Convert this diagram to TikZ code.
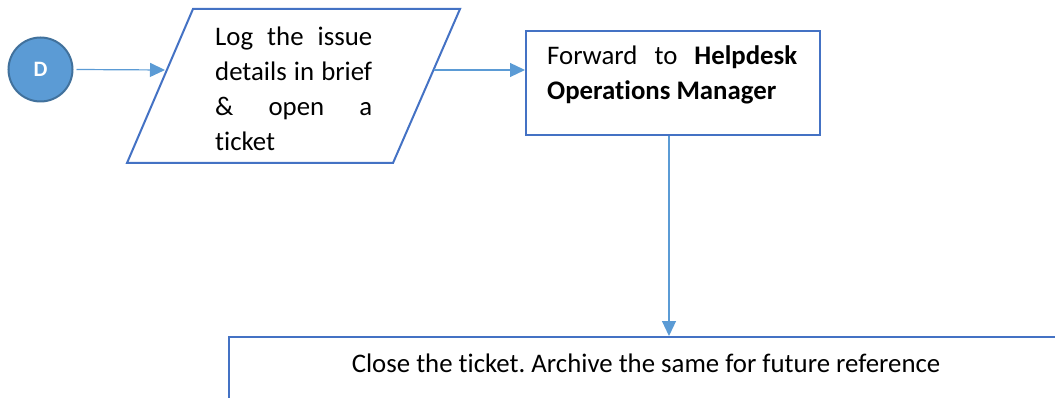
\documentclass[tikz,border=0pt]{standalone}
\usepackage{fontspec}
\setmainfont[Ligatures={NoCommon}]{Carlito}
\usetikzlibrary{arrows.meta}
\definecolor{shapeblue}{HTML}{4472C4}
\definecolor{linkblue}{HTML}{5B9BD5}
\definecolor{circleedge}{HTML}{41719C}
\frenchspacing
\tikzset{
  conn/.style={draw=linkblue, line width=1.2pt, -{Triangle[length=15pt,width=14pt]}},
  shapeline/.style={draw=shapeblue, line width=2pt},
  txt/.style={font=\fontsize{26.8}{35}\selectfont, inner sep=0pt, anchor=base west},
}
\begin{document}
\begin{tikzpicture}[x=1pt,y=-1pt]
\useasboundingbox (0,0) rectangle (1055,398);
\clip (0,0) rectangle (1055,398);
% connector circle
\node (d) [circle, fill=linkblue, draw=circleedge, line width=2pt, minimum size=64pt, inner sep=0pt,
  text=white, font=\fontsize{22}{22}\selectfont\bfseries] at (40.5,69.5) {D};
% parallelogram
\draw[shapeline] (193,9) -- (460,9) -- (393,163) -- (127,163) -- cycle;
\coordinate (plin) at (165,70);
\coordinate (plout) at (434,70);
\node (l1) [txt] at (215,46) {\makebox[157pt][s]{Log the issue}};
\node (l2) [txt] at (215,81) {\makebox[157pt][s]{details in brief}};
\node (l3) [txt] at (215,116) {\makebox[157pt][s]{\& open a}};
\node (l4) [txt] at (215,151) {ticket};
% box 2
\node (fwd) [shapeline, minimum width=294pt, minimum height=104pt, anchor=north west, inner sep=0pt] at (525,30) {};
\node (f1) [txt] at (547,65) {\makebox[250pt][s]{Forward to \textbf{Helpdesk}}};
\node (f2) [txt] at (547,100) {\textbf{Operations Manager}};
% box 3
\node (close) [shapeline, minimum width=836pt, minimum height=120pt, anchor=north west, inner sep=0pt] at (228,336) {};
\node (closetxt) [font=\fontsize{26.8}{35}\selectfont, inner sep=0pt, anchor=base] at (646,372) {Close the ticket. Archive the same for future reference};
% connectors
\draw[conn] (d.east) ++(3,0) coordinate (dstart) -- (plin);
\draw[conn] (plout) -- (fwd.west |- plout);
\draw[conn] (fwd.south -| 669,0) -- (close.north -| 669,0);
\end{tikzpicture}
\end{document}
